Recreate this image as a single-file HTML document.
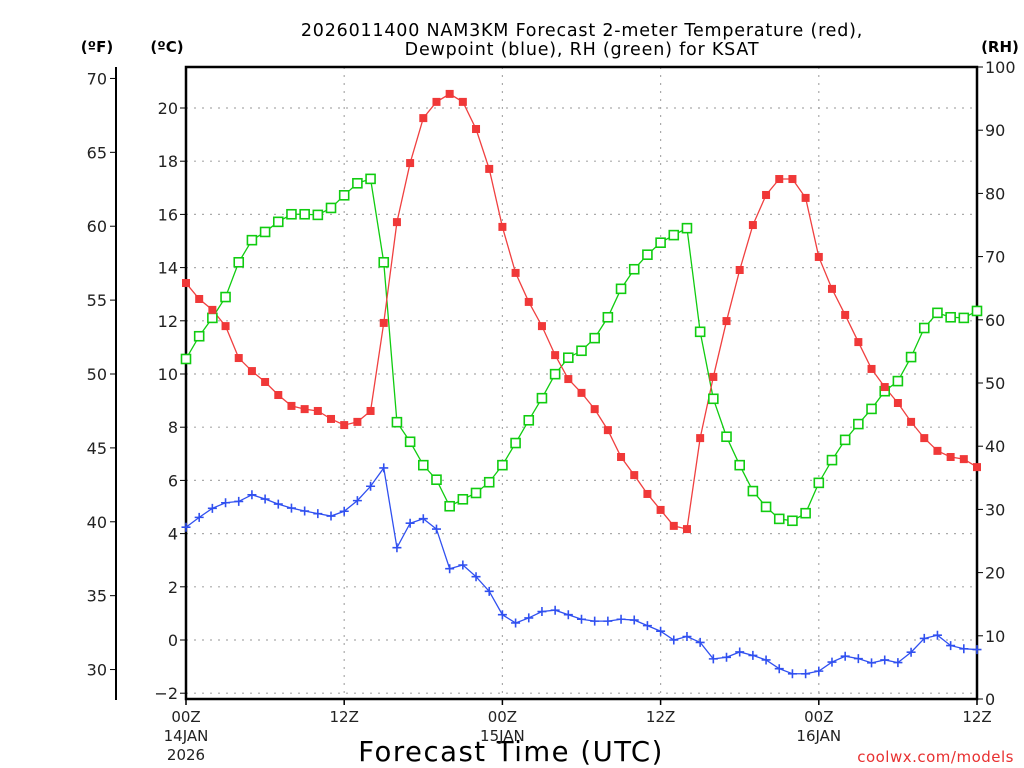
<!DOCTYPE html>
<html><head><meta charset="utf-8"><style>
html,body{margin:0;padding:0;background:#fff;}
svg{display:block;font-family:"DejaVu Sans","Liberation Sans",sans-serif;}
</style></head><body>
<svg id="chart" width="1024" height="768" viewBox="0 0 1024 768" xmlns="http://www.w3.org/2000/svg">
<rect width="1024" height="768" fill="#fff"/>
<text x="582" y="36" font-size="17.5" letter-spacing="0.8" text-anchor="middle" fill="#000">2026011400 NAM3KM Forecast 2-meter Temperature (red),</text>
<text x="582" y="55" font-size="17.5" letter-spacing="0.8" text-anchor="middle" fill="#000">Dewpoint (blue), RH (green) for KSAT</text>
<text x="97" y="52" font-size="15" font-weight="bold" text-anchor="middle">(ºF)</text>
<text x="167" y="52" font-size="15" font-weight="bold" text-anchor="middle">(ºC)</text>
<text x="1000" y="52" font-size="15" font-weight="bold" text-anchor="middle">(RH)</text>
<text x="511" y="761" font-size="27.5" letter-spacing="1.5" text-anchor="middle">Forecast Time (UTC)</text>
<text x="1014" y="762" font-size="15" letter-spacing="0.5" text-anchor="end" fill="#e83030">coolwx.com/models</text>
<g id="grid"></g><g id="axes"></g><g id="series"></g>
</svg>
<script>
const hours = Array.from({length:61},(_,i)=>i);
const tempC = [13.42,12.82,12.41,11.80,10.60,10.11,9.70,9.21,8.80,8.68,8.61,8.31,8.08,8.20,8.61,11.92,15.71,17.93,19.62,20.23,20.53,20.23,19.21,17.71,15.53,13.80,12.71,11.80,10.71,9.81,9.29,8.68,7.89,6.88,6.20,5.49,4.89,4.29,4.17,7.59,9.89,11.99,13.91,15.60,16.73,17.33,17.33,16.62,14.40,13.20,12.22,11.20,10.19,9.51,8.91,8.20,7.59,7.11,6.88,6.80,6.50];
const dewC = [4.24,4.61,4.95,5.16,5.21,5.46,5.30,5.11,4.96,4.85,4.75,4.66,4.84,5.24,5.78,6.47,3.47,4.39,4.56,4.17,2.68,2.82,2.38,1.83,0.95,0.64,0.83,1.07,1.12,0.95,0.78,0.71,0.71,0.78,0.75,0.54,0.33,0.00,0.13,-0.09,-0.71,-0.65,-0.45,-0.58,-0.75,-1.08,-1.27,-1.27,-1.17,-0.83,-0.61,-0.70,-0.86,-0.75,-0.85,-0.46,0.06,0.18,-0.21,-0.33,-0.36];
const rh = [53.8,57.4,60.3,63.6,69.1,72.6,73.9,75.5,76.7,76.7,76.6,77.7,79.7,81.6,82.3,69.1,43.8,40.7,37.0,34.7,30.5,31.6,32.6,34.3,37.0,40.5,44.1,47.6,51.4,54.0,55.1,57.1,60.4,64.9,68.0,70.3,72.2,73.4,74.5,58.1,47.5,41.5,37.0,32.9,30.4,28.5,28.2,29.4,34.2,37.8,41.0,43.5,45.9,48.7,50.3,54.1,58.7,61.1,60.4,60.3,61.4];
const cTicks = [-2,0,2,4,6,8,10,12,14,16,18,20];
const fTicks = [30,35,40,45,50,55,60,65,70];
const rhTicks = [0,10,20,30,40,50,60,70,80,90,100];
const xTickHours = [0,12,24,36,48,60];
const xTickLabels = [["00Z","14JAN","2026"],["12Z"],["00Z","15JAN"],["12Z"],["00Z","16JAN"],["12Z"]];

const L=186,R=977,T=67,B=699;
const X=h=>L+(h/60)*(R-L);
const YC=c=>640-26.6*c;
const YF=f=>YC((f-32)/1.8);
const YR=r=>B-(r/100)*(B-T);
const NS="http://www.w3.org/2000/svg";
function mk(parent,tag,attrs){const e=document.createElementNS(NS,tag);for(const k in attrs)e.setAttribute(k,attrs[k]);parent.appendChild(e);return e;}
const grid=document.getElementById('grid'),axes=document.getElementById('axes'),ser=document.getElementById('series');

cTicks.forEach(c=>{
  const y=YC(c);
  const g=mk(grid,'line',{x1:L,x2:R,y1:y,y2:y,stroke:'#aaa','stroke-width':1.2,'stroke-dasharray':'2,6'});
  
  
  mk(axes,'line',{x1:L-6,x2:L,y1:y,y2:y,stroke:'#000','stroke-width':1});
  const t=mk(axes,'text',{x:L-8,y:y+6,'font-size':16,'text-anchor':'end',fill:'#222'});
  t.textContent=c<0?'\u2212'+(-c):c;
  
  
});
xTickHours.forEach((h,i)=>{
  const x=X(h);
  if(h>0&&h<60){const g=mk(grid,'line',{x1:x,x2:x,y1:T,y2:B,stroke:'#aaa','stroke-width':1.2,'stroke-dasharray':'2,6'});
    
    }
  mk(axes,'line',{x1:x,x2:x,y1:B,y2:B+6,stroke:'#000','stroke-width':1.5});
  xTickLabels[i].forEach((s,j)=>{
    const t=mk(axes,'text',{x:x,y:722+j*19,'font-size':15,'text-anchor':'middle',fill:'#222'});
    t.textContent=s;
    
    
  });
});
mk(axes,'line',{x1:116,x2:116,y1:67,y2:700,stroke:'#000','stroke-width':2});
fTicks.forEach(f=>{
  const y=YF(f);
  mk(axes,'line',{x1:110,x2:116,y1:y,y2:y,stroke:'#000','stroke-width':1});
  const t=mk(axes,'text',{x:107,y:y+6,'font-size':16,'text-anchor':'end',fill:'#222'});
  t.textContent=f;
  
  
});
rhTicks.forEach(r=>{
  const y=YR(r);
  mk(axes,'line',{x1:R,x2:R+6,y1:y,y2:y,stroke:'#000','stroke-width':1});
  const t=mk(axes,'text',{x:R+8,y:y+6,'font-size':16,'text-anchor':'start',fill:'#222'});
  t.textContent=r;
  
  
});
const fr=mk(axes,'rect',{x:L,y:T,width:R-L,height:B-T,fill:'none',stroke:'#000','stroke-width':2.5});



function line(vals,yf,color,name){
  const p=mk(ser,'polyline',{points:vals.map((v,i)=>X(hours[i])+','+yf(v)).join(' '),fill:'none',stroke:color,'stroke-width':1.3});
  
  
}
line(rh,YR,'#10cc10','rh-line');
line(tempC,YC,'#f04040','temperature-line');
line(dewC,YC,'#3050f0','dewpoint-line');
rh.forEach((v,i)=>{const m=mk(ser,'rect',{x:X(hours[i])-4.5,y:YR(v)-4.5,width:9,height:9,fill:'#fff',stroke:'#10cc10','stroke-width':1.6});
  
  });
tempC.forEach((v,i)=>{const m=mk(ser,'rect',{x:X(hours[i])-4,y:YC(v)-4,width:8,height:8,fill:'#f03838'});
  
  });
dewC.forEach((v,i)=>{const x=X(hours[i]),y=YC(v);
  const m=mk(ser,'path',{d:`M${x-4.5},${y}H${x+4.5}M${x},${y-4.5}V${y+4.5}`,stroke:'#3050f0','stroke-width':1.6,fill:'none'});
  
  });
</script>
</body></html>
